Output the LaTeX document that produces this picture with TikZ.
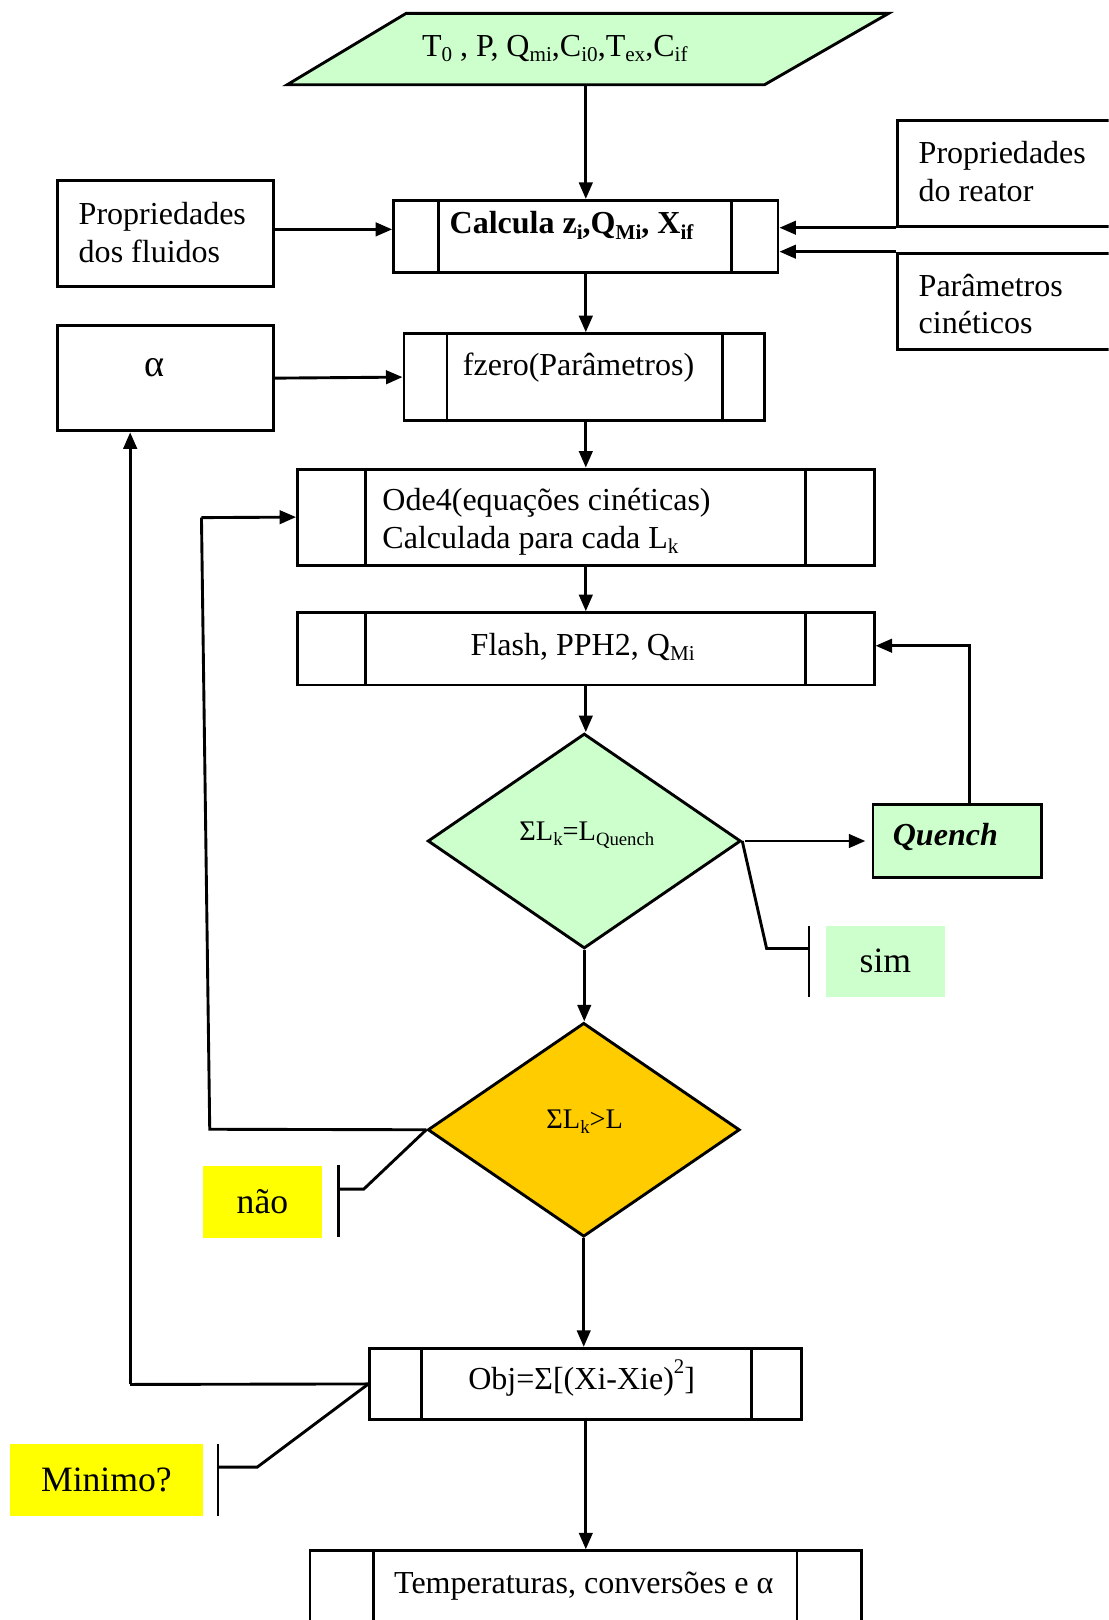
\documentclass[tikz,border=0pt]{standalone}
\usepackage{fontspec}
\setmainfont{Liberation Serif}
\usepackage{graphicx}
\usetikzlibrary{arrows.meta,shapes.geometric}

\definecolor{mint}{HTML}{CCFFCC}
\definecolor{amber}{HTML}{FFCC00}
\definecolor{lemon}{HTML}{FFFF00}

% lowered and raised small text, as in a word processor
\newcommand{\lowtxt}[1]{\raisebox{-0.17em}{\scalebox{0.66}{#1}}}
\newcommand{\hightxt}[1]{\raisebox{0.5em}{\scalebox{0.65}{#1}}}
% the two side bars of a predefined-process box
\newcommand{\sidebars}[3]{%
  \draw[wire] ([xshift=#2pt]#1.north west) -- ([xshift=#2pt]#1.south west);
  \draw[wire] ([xshift=-#3pt]#1.north east) -- ([xshift=-#3pt]#1.south east);}

\tikzset{
  wire/.style={line width=2.8pt},
  base/.style={draw=black, line width=2.8pt, inner sep=0pt},
  procbox/.style={base, rectangle},
  txt/.style={inner sep=0pt, font=\fontsize{31}{36}\selectfont},
  dtxt/.style={inner sep=0pt, font=\fontsize{27.5}{32}\selectfont},
  tag/.style={rectangle, inner sep=0pt, font=\fontsize{34.5}{40}\selectfont},
  arr/.style={line width=2.8pt, -{Triangle[length=16pt,width=13pt]}},
}

\begin{document}
\begin{tikzpicture}[x=1pt,y=-1pt]
\clip (0,0) rectangle (1073,1568);
\fill[white] (0,0) rectangle (1073,1568);

% input data (parallelogram)
\node[inner sep=0pt, minimum width=582, minimum height=69] (inp) at (569,47.5) {};
\filldraw[base, fill=mint] (393,13) -- (860,13) -- (740,82) -- (278,82) -- cycle;
\node[txt] (inptext) at (537,47) {T\lowtxt{0} , P, Q\lowtxt{mi},C\lowtxt{i0},T\lowtxt{ex},C\lowtxt{if}};

% side inputs
\node[procbox, minimum width=209, minimum height=102] (fluid) at (160.5,226) {};
\node[txt, anchor=west, align=left] (fluidtext) at (76,225) {Propriedades\\dos fluidos};
\node[procbox, minimum width=231, minimum height=102] (reator) at (984.5,168) {};
\node[txt, anchor=west, align=left] (reatortext) at (889,166) {Propriedades\\do reator};
\node[procbox, minimum width=231, minimum height=93] (param) at (984.5,291.5) {};
\node[txt, anchor=west, align=left] (paramtext) at (889,294) {Parâmetros\\cinéticos};
\node[procbox, minimum width=209, minimum height=102] (alpha) at (160.5,366) {};
\node[txt, font=\fontsize{37}{40}\selectfont] (alphatext) at (150,356) {α};

% main chain
\node[procbox, minimum width=372, minimum height=70] (calc) at (567,229) {};
\sidebars{calc}{45}{46}
\node[txt, anchor=west] (calctext) at (435,218) {\textbf{Calcula z\lowtxt{i},Q\lowtxt{Mi}, X\lowtxt{if}}};

\node[procbox, minimum width=349, minimum height=84] (fz) at (565.5,365) {};
\sidebars{fz}{43}{42}
\node[txt] (fztext) at (560,356) {fzero(Parâmetros)};

\node[procbox, minimum width=558, minimum height=93] (ode) at (567,500.5) {};
\sidebars{ode}{67}{68}
\node[txt, anchor=west, align=left] (odetext) at (370,505) {Ode4(equações cinéticas)\\Calculada para cada L\lowtxt{k}};

\node[procbox, minimum width=558, minimum height=70] (flash) at (567,628) {};
\sidebars{flash}{67}{68}
\node[txt] (flashtext) at (564,626) {Flash, PPH2, Q\lowtxt{Mi}};

\node[base, diamond, fill=mint, minimum width=303, minimum height=208] (d1) at (565.5,814) {};
\node[dtxt] (d1text) at (568,808) {ΣL\lowtxt{k}=L\lowtxt{Quench}};
\node[procbox, fill=mint, minimum width=163, minimum height=70] (quench) at (926.5,814) {};
\node[txt] (quenchtext) at (915,810) {\textbf{\textit{Quench}}};
\node[tag, fill=mint, minimum width=116, minimum height=69] (sim) at (857,930.5) {sim};

\node[base, diamond, fill=amber, minimum width=302, minimum height=207] (d2) at (565,1093.5) {};
\node[dtxt] (d2text) at (566,1086) {ΣL\lowtxt{k}>L};
\node[tag, fill=lemon, minimum width=116, minimum height=69] (nao) at (254,1163.5) {não};

\node[procbox, minimum width=418, minimum height=69] (obj) at (567,1339.5) {};
\sidebars{obj}{51}{50}
\node[txt] (objtext) at (563,1334) {Obj=Σ[(Xi-Xie)\hightxt{2}]};
\node[tag, fill=lemon, minimum width=186, minimum height=69] (minimo) at (103,1432.5) {Minimo?};

\node[procbox, minimum width=534, minimum height=100] (temp) at (567,1551) {};
\sidebars{temp}{63}{64}
\node[txt] (temptext) at (565,1535) {Temperaturas, conversões e α};

% connectors of the main chain
\draw[arr] (calc.north |- inp.south) -- (calc.north);
\draw[arr] ([yshift=4pt]fluid.east) -- ([yshift=4pt]fluid.east -| calc.west);
\draw[arr] (reator.south west) -- (reator.south west -| calc.east);
\draw[arr] (param.north west) -- (param.north west -| calc.east);
\draw[arr] (calc.south) -- (calc.south |- fz.north);
\draw[arr] (alpha.east) -- (fz.west);
\draw[arr] (calc.south |- fz.south) -- (ode.north);
\draw[arr] (ode.south) -- (flash.north);
\draw[arr] (flash.south) -- (d1.north -| flash.south);
\draw[arr] ([xshift=3pt]d1.east) -- ([xshift=-6pt]quench.west);
\draw[arr] ([xshift=11.5pt]quench.north) |- ([yshift=3pt]flash.east);
\draw[arr] (d1.south) -- (d2.north -| d1.south);
\draw[arr] (d2.south) -- (obj.north -| d2.south);
\draw[arr] (obj.south) -- (temp.north);

% loop back from the second test
\coordinate (loopb) at (203,1093);
\coordinate (loopt) at (195,501);
\draw[wire] (d2.west) -- (loopb) -- (loopt);
\draw[arr] (loopt) -- (ode.west);

% return to alpha
\coordinate (ret) at (126,1340);
\draw[wire] (obj.west) -- (ret);
\draw[arr] (ret) -- (ret |- alpha.south);

% callout brackets
\coordinate (simk) at (742,918);
\coordinate (simb) at (783,918);
\draw[wire] (d1.east) -- (simk) -- (simb);
\draw[wire] (783,896) -- (783,965);

\coordinate (naok) at (352,1151);
\coordinate (naob) at (328,1151);
\draw[wire] (d2.west) -- (naok) -- (naob);
\draw[wire] (328,1128) -- (328,1197);

\coordinate (mink) at (249,1420);
\coordinate (minb) at (211,1420);
\draw[wire] (obj.west) -- (mink) -- (minb);
\draw[wire] (211,1398) -- (211,1467);
\end{tikzpicture}
\end{document}
